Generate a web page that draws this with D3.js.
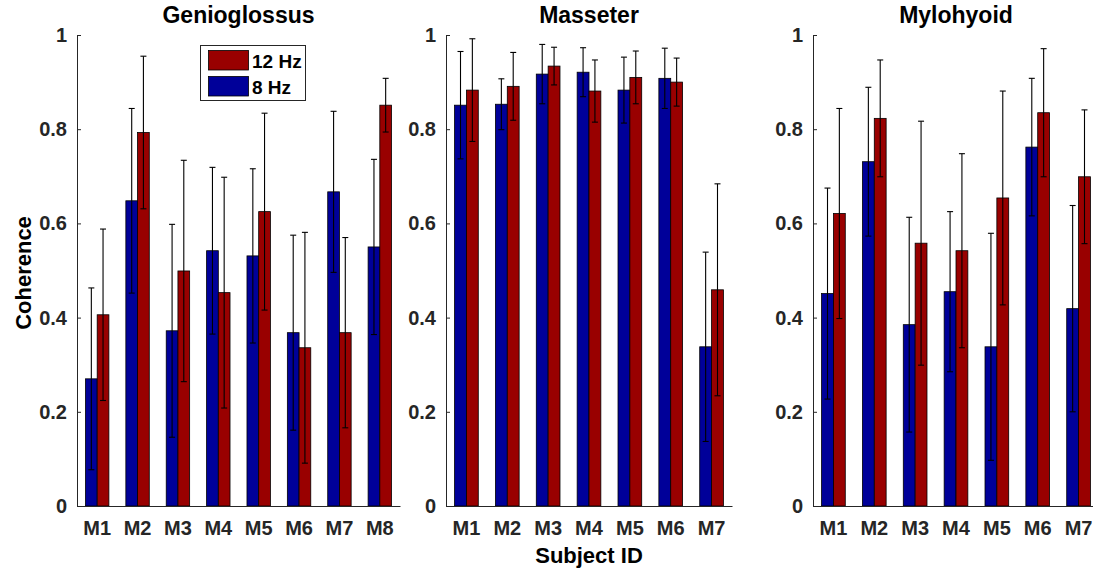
<!DOCTYPE html>
<html>
<head>
<meta charset="utf-8">
<script src="https://cdn.jsdelivr.net/npm/d3@7"></script>
<style>
    body { margin: 0; background: #ffffff; }
    svg { display: block; font-family: "Liberation Sans", Arial, sans-serif; }
</style>
</head>
<body>
<svg id="chart" width="1093" height="574"></svg>
<script>
// values, one entry per subject
var muscles = ["Genioglossus", "Masseter", "Mylohyoid"];
var series = ["8 Hz", "12 Hz"];
var yTicks = [0, 0.2, 0.4, 0.6, 0.8, 1];

var genioSubjects = ["M1", "M2", "M3", "M4", "M5", "M6", "M7", "M8"];
var genio8 = [0.270, 0.648, 0.372, 0.542, 0.531, 0.368, 0.667, 0.550];
var genio8Err = [0.193, 0.196, 0.226, 0.177, 0.185, 0.207, 0.171, 0.186];
var genio12 = [0.406, 0.793, 0.499, 0.453, 0.625, 0.336, 0.368, 0.851];
var genio12Err = [0.182, 0.162, 0.235, 0.245, 0.209, 0.245, 0.202, 0.057];

var massSubjects = ["M1", "M2", "M3", "M4", "M5", "M6", "M7"];
var mass8 = [0.851, 0.853, 0.917, 0.921, 0.883, 0.908, 0.338];
var mass8Err = [0.114, 0.054, 0.063, 0.052, 0.070, 0.064, 0.201];
var mass12 = [0.883, 0.891, 0.934, 0.881, 0.910, 0.900, 0.459];
var mass12Err = [0.109, 0.072, 0.040, 0.066, 0.056, 0.051, 0.225];

var myloSubjects = ["M1", "M2", "M3", "M4", "M5", "M6", "M7"];
var mylo8 = [0.451, 0.731, 0.385, 0.455, 0.338, 0.762, 0.419];
var mylo8Err = [0.224, 0.158, 0.228, 0.170, 0.241, 0.146, 0.219];
var mylo12 = [0.621, 0.823, 0.558, 0.542, 0.654, 0.835, 0.699];
var mylo12Err = [0.223, 0.124, 0.259, 0.206, 0.227, 0.136, 0.142];

var colors = { "8 Hz": "#000099", "12 Hz": "#990000" };
var axisColor = "#262626";

var svg = d3.select("#chart");

// axes boxes, in pixels (MATLAB style subplots)
var panels = [
    { name: muscles[0], left: 77, right: 400, subjects: genioSubjects, v8: genio8, e8: genio8Err, v12: genio12, e12: genio12Err },
    { name: muscles[1], left: 446, right: 732, subjects: massSubjects, v8: mass8, e8: mass8Err, v12: mass12, e12: mass12Err },
    { name: muscles[2], left: 813, right: 1099, subjects: myloSubjects, v8: mylo8, e8: mylo8Err, v12: mylo12, e12: mylo12Err }
];
var plotTop = 35, plotBottom = 506;   // "top" is taken by window.top

var y = d3.scaleLinear().domain([0, 1]).range([plotBottom, plotTop]);

panels.forEach(function (p) {
    var g = svg.append("g");

    var x0 = d3.scaleBand().domain(p.subjects).range([p.left, p.right]);
    var x1 = d3.scaleBand().domain(series)
        .range([x0.bandwidth() * 0.21, x0.bandwidth() * 0.79]);

    var rows = p.subjects.map(function (s, i) {
        return { subject: s, vals: [
            { key: "8 Hz", v: p.v8[i], e: p.e8[i] },
            { key: "12 Hz", v: p.v12[i], e: p.e12[i] }
        ] };
    });

    var groups = g.selectAll(".grp")
        .data(rows)
        .enter().append("g")
        .attr("class", "grp")
        .attr("transform", function (d) { return "translate(" + x0(d.subject) + ",0)"; });

    groups.selectAll("rect")
        .data(function (d) { return d.vals; })
        .enter().append("rect")
        .attr("x", function (d) { return x1(d.key); })
        .attr("y", function (d) { return y(d.v); })
        .attr("width", x1.bandwidth())
        .attr("height", function (d) { return y(0) - y(d.v); })
        .attr("fill", function (d) { return colors[d.key]; })
        .attr("stroke", "#000")
        .attr("stroke-width", 0.8);

    // error bars on top of the bars
    var eb = groups.selectAll(".err")
        .data(function (d) { return d.vals; })
        .enter().append("g")
        .attr("class", "err")
        .attr("stroke", "#000")
        .attr("stroke-width", 1.1);
    eb.append("line")
        .attr("x1", function (d) { return x1(d.key) + x1.bandwidth() / 2; })
        .attr("x2", function (d) { return x1(d.key) + x1.bandwidth() / 2; })
        .attr("y1", function (d) { return y(d.v - d.e); })
        .attr("y2", function (d) { return y(d.v + d.e); });
    [1, -1].forEach(function (sgn) {
        eb.append("line")
            .attr("x1", function (d) { return x1(d.key) + x1.bandwidth() / 2 - 3; })
            .attr("x2", function (d) { return x1(d.key) + x1.bandwidth() / 2 + 3; })
            .attr("y1", function (d) { return y(d.v + sgn * d.e); })
            .attr("y2", function (d) { return y(d.v + sgn * d.e); });
    });

    // y axis, ticks pointing inward
    var yAxis = d3.axisLeft(y).tickValues(yTicks)
        .tickFormat(function (d) { return d === 0 || d === 1 ? d : d3.format(".1f")(d); })
        .tickSizeInner(-4).tickSizeOuter(0).tickPadding(10);
    var ya = g.append("g")
        .attr("transform", "translate(" + p.left + ",0)")
        .call(yAxis);

    var xAxis = d3.axisBottom(x0).tickSize(0).tickPadding(15);
    var xa = g.append("g")
        .attr("transform", "translate(0," + plotBottom + ")")
        .call(xAxis);

    [ya, xa].forEach(function (a) {
        a.selectAll("path, line").attr("stroke", axisColor);
        a.selectAll("text")
            .attr("fill", axisColor)
            .style("font-size", "20px")
            .style("font-weight", "bold");
    });

    g.append("text")
        .attr("x", (p.left + p.right) / 2)
        .attr("y", 23)
        .attr("text-anchor", "middle")
        .style("font-size", "23px")
        .style("font-weight", "bold")
        .attr("fill", "#000")
        .text(p.name);
});

// shared axis labels
svg.append("text")
    .attr("transform", "translate(31,273) rotate(-90)")
    .attr("text-anchor", "middle")
    .style("font-size", "22px")
    .style("font-weight", "bold")
    .attr("fill", "#000")
    .text("Coherence");

svg.append("text")
    .attr("x", 589)
    .attr("y", 563)
    .attr("text-anchor", "middle")
    .style("font-size", "22px")
    .style("font-weight", "bold")
    .attr("fill", "#000")
    .text("Subject ID");

// legend inside the first panel, 12 Hz listed first
var legend = svg.append("g");
legend.append("rect")
    .attr("x", 200.5).attr("y", 45.5)
    .attr("width", 105).attr("height", 55)
    .attr("fill", "#fff")
    .attr("stroke", axisColor)
    .attr("stroke-width", 1);
["12 Hz", "8 Hz"].forEach(function (k, i) {
    legend.append("rect")
        .attr("x", 208.5).attr("y", 50.5 + i * 26)
        .attr("width", 40).attr("height", 19.5)
        .attr("fill", colors[k])
        .attr("stroke", "#000")
        .attr("stroke-width", 0.8);
    legend.append("text")
        .attr("x", 252)
        .attr("y", 68 + i * 26)
        .style("font-size", "19px")
        .style("font-weight", "bold")
        .attr("fill", "#000")
        .text(k);
});
</script>
</body>
</html>
